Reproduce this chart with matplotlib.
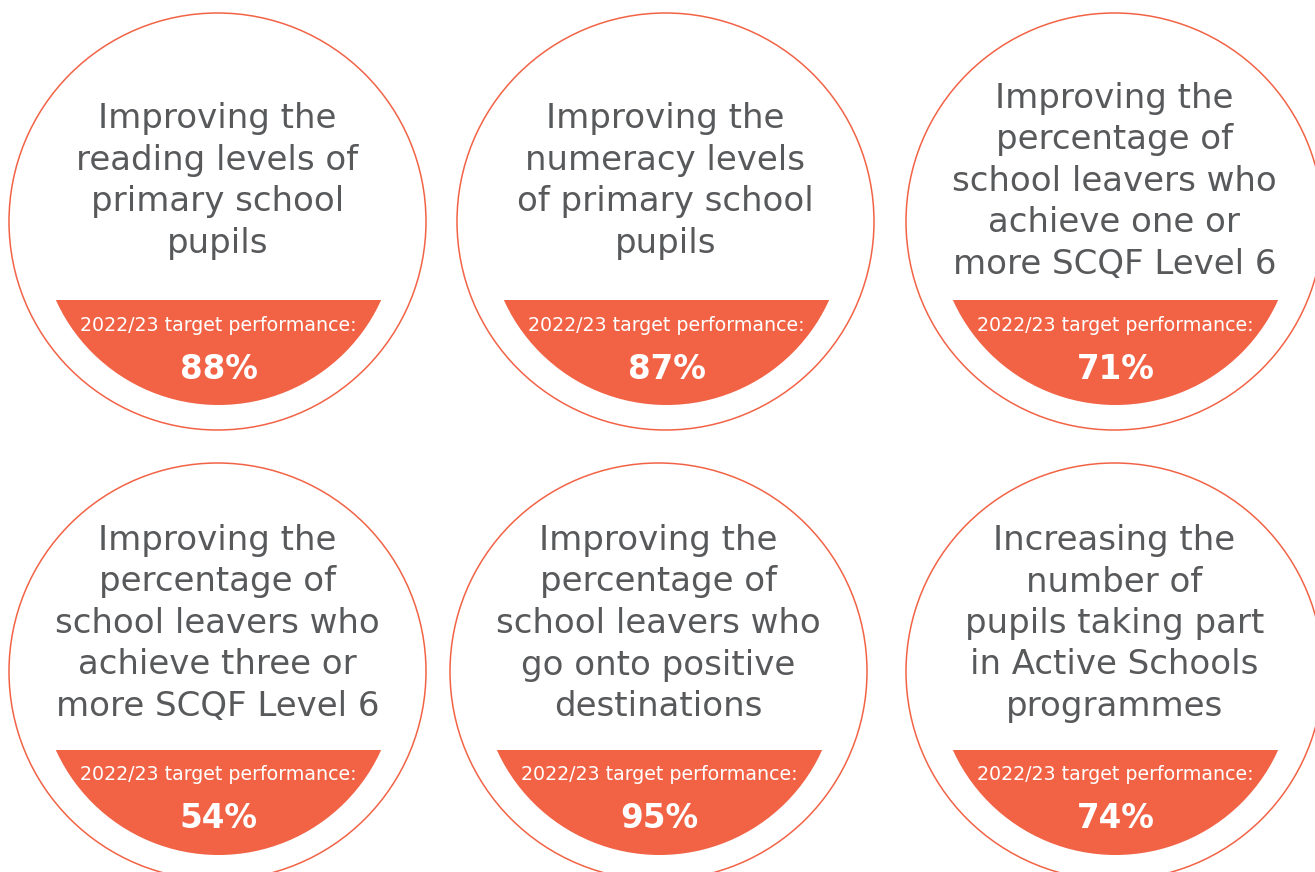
import matplotlib
matplotlib.use("agg")
import matplotlib.pyplot as plt
from matplotlib.patches import Circle, Rectangle

titles = [
    "Improving the\nreading levels of\nprimary school\npupils",
    "Improving the\nnumeracy levels\nof primary school\npupils",
    "Improving the\npercentage of\nschool leavers who\nachieve one or\nmore SCQF Level 6",
    "Improving the\npercentage of\nschool leavers who\nachieve three or\nmore SCQF Level 6",
    "Improving the\npercentage of\nschool leavers who\ngo onto positive\ndestinations",
    "Increasing the\nnumber of\npupils taking part\nin Active Schools\nprogrammes",
]
targets = [88, 87, 71, 54, 95, 74]
target_label = "2022/23 target performance:"

# layout in pixels (y downwards)
centers = [(217.5, 221.5), (665.5, 221.5), (1114.5, 221.5),
           (217.5, 671.5), (658.5, 671.5), (1114.5, 671.5)]
text_dy = [-31, -31, -31, -38.5, -38.5, -38.5]   # baseline of middle title line
R = 208.5
R_IN = 178.5
IN_DY = 5
CUT = 78.5
LINE_H = 41.5

ORANGE = "#F26346"
GREY = "#58595B"

plt.rcParams['font.family'] = ['DejaVu Sans']

fig = plt.figure(figsize=(13.15, 8.72), dpi=100)
ax = fig.add_axes([0, 0, 1, 1])
ax.set_xlim(0, 1315)
ax.set_ylim(872, 0)
ax.set_aspect("equal")
ax.axis("off")

for (cx, cy), dy, title, val in zip(centers, text_dy, titles, targets):
    ax.add_patch(Circle((cx, cy), R, fill=False, edgecolor=ORANGE, linewidth=1.1))
    # orange bottom segment
    inner = Circle((cx + 1, cy + IN_DY), R_IN, facecolor=ORANGE, edgecolor="none")
    ax.add_patch(inner)
    clip = Rectangle((cx - R, cy + CUT), 2 * R, R, transform=ax.transData)
    inner.set_clip_path(clip)

    lines = title.split("\n")
    n = len(lines)
    for i, ln in enumerate(lines):
        y = cy + dy + (i - (n - 1) / 2) * LINE_H
        ax.text(cx, y, ln, ha="center", va="baseline", fontsize=24.5,
                color=GREY)
    ax.text(cx + 1, cy + 109, target_label, ha="center", va="baseline",
            fontsize=13.7, color="white")
    ax.text(cx + 1, cy + 157, f"{val}%", ha="center", va="baseline",
            fontsize=23.5, fontweight="bold", color="white")

fig.savefig("out.png", dpi=100, facecolor="white")
